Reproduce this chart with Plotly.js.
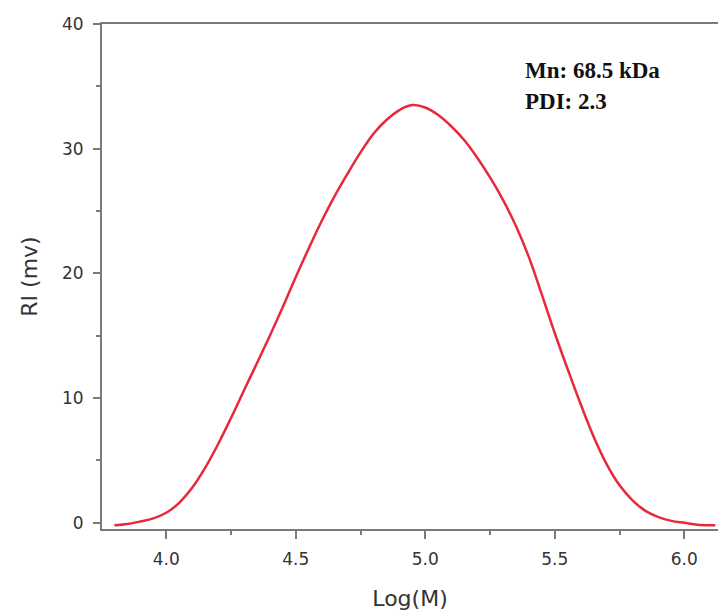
<!DOCTYPE html>
<html>
<head>
<meta charset="utf-8">
<script src="https://cdn.plot.ly/plotly-3.0.1.min.js"></script>
<style>html,body{margin:0;padding:0;background:#fff;}</style>
</head>
<body>
<div id="chart" style="width:718px;height:611px;"></div>
<script>
const logM = [3.80,3.85,3.90,3.95,4.00,4.05,4.10,4.15,4.20,4.25,4.30,4.35,4.40,4.45,4.50,4.55,4.60,4.65,4.70,4.75,4.80,4.85,4.90,4.95,5.00,5.05,5.10,5.15,5.20,5.25,5.30,5.35,5.40,5.45,5.50,5.55,5.60,5.65,5.70,5.75,5.80,5.85,5.90,5.95,6.00,6.05,6.10,6.12];
const riMv = [-0.2,-0.1,0.1,0.35,0.8,1.6,2.8,4.4,6.3,8.4,10.6,12.8,15.0,17.3,19.7,22.0,24.2,26.2,28.0,29.7,31.2,32.3,33.1,33.5,33.3,32.7,31.8,30.7,29.3,27.7,25.9,23.8,21.3,18.3,15.2,12.3,9.5,6.9,4.7,3.0,1.8,0.95,0.45,0.15,0.0,-0.15,-0.2,-0.2];
const xTicks = [4.0,4.5,5.0,5.5,6.0];
const yTicks = [0,10,20,30,40];
const notes = ["Mn: 68.5 kDa","PDI: 2.3"];

const axisColor = '#7a7a7a';
const tickFont = {family:'DejaVu Sans, Arial, sans-serif', size:17, color:'#333'};
const titleFont = {family:'DejaVu Sans, Arial, sans-serif', size:22, color:'#333'};

const data = [{
  x: logM, y: riMv, type:'scatter', mode:'lines',
  line:{color:'#e8283c', width:2.5, shape:'spline', smoothing:1},
  hoverinfo:'skip'
}];

const layout = {
  width:718, height:611,
  margin:{l:102, r:0, t:24, b:82},
  paper_bgcolor:'#fff', plot_bgcolor:'#fff',
  showlegend:false,
  xaxis:{
    range:[3.752, 6.13], tickvals:xTicks, ticktext:xTicks.map(v=>v.toFixed(1)),
    ticks:'outside', ticklen:8, tickwidth:2, tickcolor:axisColor,
    minor:{dtick:0.25, tick0:0, ticks:'outside', ticklen:4, tickwidth:2, tickcolor:axisColor},
    showline:true, linecolor:axisColor, linewidth:2, mirror:true,
    showgrid:false, zeroline:false, tickfont:tickFont, ticklabelstandoff:6,
    title:{text:'Log(M)', font:titleFont, standoff:22}
  },
  yaxis:{
    range:[-0.5, 40], tickvals:yTicks,
    ticks:'outside', ticklen:7, tickwidth:2, tickcolor:axisColor,
    minor:{dtick:5, tick0:0, ticks:'outside', ticklen:4, tickwidth:2, tickcolor:axisColor},
    showline:true, linecolor:axisColor, linewidth:2, mirror:false,
    showgrid:false, zeroline:false, tickfont:tickFont, ticklabelstandoff:6,
    title:{text:'RI (mv)', font:titleFont, standoff:18}
  },
  annotations: notes.map((t,i)=>({
    text:'<b>'+t+'</b>', xref:'paper', yref:'paper',
    x:0.683, y:[0.908,0.846][i], xanchor:'left', yanchor:'middle', showarrow:false,
    font:{family:'Liberation Serif, Times New Roman, serif', size:23, color:'#111'}
  }))
};

Plotly.newPlot('chart', data, layout, {displayModeBar:false, staticPlot:true});
</script>
</body>
</html>
